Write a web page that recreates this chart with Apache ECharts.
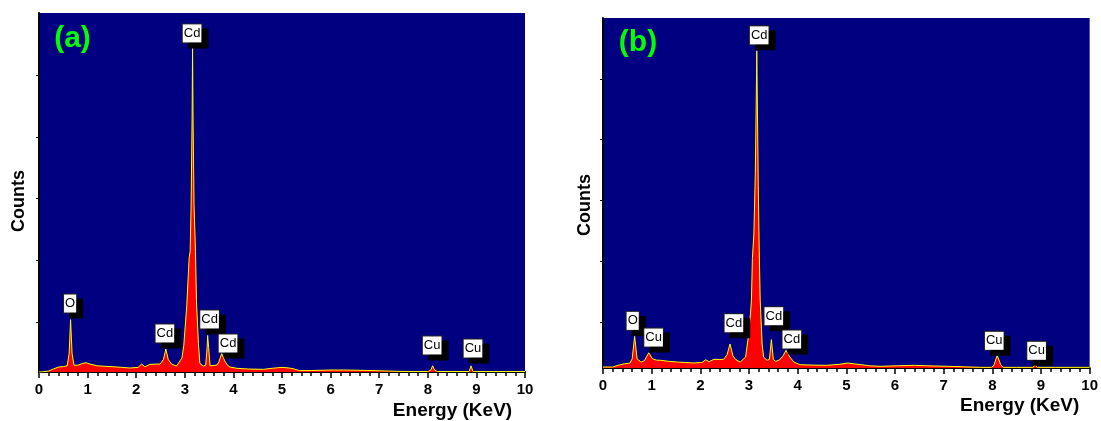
<!DOCTYPE html>
<html>
<head>
<meta charset="utf-8">
<script src="https://cdn.jsdelivr.net/npm/echarts@6/dist/echarts.min.js"></script>
<style>
html,body{margin:0;padding:0;background:#fff;}
#c{width:1101px;height:421px;}
</style>
</head>
<body>
<div id="c"></div>
<script>
// ---------- Panel (a) spectrum ----------
const energyA = [0.00,0.10,0.20,0.30,0.40,0.50,0.58,0.62,0.65,0.68,0.72,0.80,0.90,0.97,1.05,1.20,1.40,1.53,1.70,1.87,2.04,2.11,2.18,2.28,2.40,2.49,2.56,2.61,2.66,2.73,2.83,2.94,2.98,3.04,3.09,3.11,3.13,3.15,3.16,3.17,3.19,3.22,3.24,3.28,3.31,3.38,3.43,3.46,3.47,3.49,3.52,3.55,3.66,3.70,3.76,3.82,3.88,3.93,4.07,4.30,4.62,4.80,5.00,5.15,5.23,5.37,5.60,5.99,6.30,6.67,7.00,7.36,7.70,8.00,8.06,8.10,8.14,8.20,8.50,8.85,8.89,8.93,9.20,9.60,10.00];
const countsA = [0,5,16,50,80,88,100,300,845,300,110,110,140,150,128,100,90,85,75,64,75,128,85,123,128,128,200,370,200,128,96,224,432,1070,1850,1950,2700,4100,5230,4100,2700,1950,1150,460,140,96,110,400,590,400,100,80,112,160,300,180,110,80,60,48,43,60,75,64,53,21,24,32,32,27,20,11,8,8,30,100,30,8,8,8,100,8,8,8,8];
const labelElA = ['O','Cd','Cd','Cd','Cd','Cu','Cu'];
const labelXA  = [0.64,2.59,3.15,3.51,3.89,8.09,8.93];
const labelYA  = [953,469,5317,695,307,275,226];

// ---------- Panel (b) spectrum ----------
const energyB = [0.00,0.20,0.31,0.44,0.55,0.60,0.65,0.70,0.78,0.85,0.94,1.02,1.10,1.19,1.35,1.53,1.70,1.87,2.04,2.11,2.18,2.28,2.40,2.48,2.55,2.61,2.67,2.73,2.82,2.93,2.98,3.03,3.05,3.07,3.10,3.13,3.15,3.16,3.17,3.19,3.21,3.23,3.27,3.30,3.37,3.42,3.46,3.50,3.55,3.62,3.70,3.76,3.84,3.92,4.05,4.30,4.59,4.85,5.03,5.14,5.31,5.50,5.71,6.00,6.40,6.70,7.08,7.40,7.76,7.98,8.03,8.10,8.17,8.22,8.50,8.84,8.88,8.92,9.30,10.00];
const countsB = [16,16,44,70,80,150,520,150,98,120,250,150,130,126,110,98,90,82,93,136,103,143,140,143,220,394,200,136,98,180,475,885,1115,1800,2200,3200,4500,5210,4500,3000,1935,1115,394,180,126,140,466,140,110,130,200,290,180,100,54,48,44,60,82,70,54,35,28,35,44,35,28,20,11,11,40,208,60,11,11,11,60,11,11,11];
const labelElB = ['O','Cu','Cd','Cd','Cd','Cd','Cu','Cu'];
const labelXB  = [0.61,1.04,2.69,3.21,3.51,3.88,8.04,8.91];
const labelYB  = [618,344,580,5309,695,312,290,126];

// ---------- Axes ----------
const xTickLabels = ['0','1','2','3','4','5','6','7','8','9','10'];
const yTicksA = [800,1800,2800,3800,4800];
const yTicksB = [750,1750,2750,3750,4750];
const panelTags = ['(a)','(b)'];
const xTitle = 'Energy (KeV)';
const yTitle = 'Counts';

const zip = (xs, ys) => xs.map((x, i) => [x, ys[i]]);
const labelData = (els, xs, ys) => els.map((e, i) => ({name: e, value: [xs[i], ys[i]]}));

const FONT = '"Liberation Sans", Arial, sans-serif';

function xAxis(gi) {
  return {
    type: 'value', gridIndex: gi, min: 0, max: 10, interval: 1,
    axisLine: {show: true, onZero: false, lineStyle: {color: '#000', width: 2}},
    axisTick: {show: true, length: 6, lineStyle: {color: '#000', width: 1.5}},
    minorTick: {show: true, splitNumber: 5, length: 4, lineStyle: {color: '#000', width: 1.5}},
    splitLine: {show: false},
    axisLabel: {
      color: '#000', fontWeight: 'bold', fontSize: 15, fontFamily: FONT, margin: 10,
      formatter: v => xTickLabels[Math.round(v)]
    }
  };
}
function yAxis(gi, max, ticks) {
  return {
    type: 'value', gridIndex: gi, min: 0, max: max,
    axisLine: {show: true, onZero: false, lineStyle: {color: '#000', width: 2}},
    axisTick: {show: true, length: 3, customValues: ticks, lineStyle: {color: '#000', width: 1}},
    axisLabel: {show: false},
    splitLine: {show: false}
  };
}
function spectrum(gi, data) {
  return {
    type: 'line', xAxisIndex: gi, yAxisIndex: gi, data: data,
    symbol: 'none', smooth: false,
    lineStyle: {color: '#ffff00', width: 1},
    areaStyle: {color: '#ff0000', opacity: 1},
    z: 2
  };
}
function tags(gi, data) {
  return {
    type: 'scatter', xAxisIndex: gi, yAxisIndex: gi, data: data,
    symbolSize: 1, itemStyle: {color: 'rgba(0,0,0,0)', opacity: 1},
    z: 5,
    emphasis: {disabled: true},
    label: {
      show: true, position: 'top', distance: 0,
      formatter: p => p.name,
      color: '#000', fontSize: 13, fontFamily: FONT, lineHeight: 16,
      backgroundColor: '#ffffff', borderColor: '#222', borderWidth: 1,
      padding: [1, 1, 1, 1],
      shadowColor: '#000', shadowOffsetX: 6, shadowOffsetY: 5, shadowBlur: 0
    }
  };
}

const option = {
  animation: false,
  backgroundColor: '#ffffff',
  grid: [
    {left: 39, top: 13, width: 486, height: 359, show: true, backgroundColor: '#000080', borderWidth: 0},
    {left: 603, top: 18, width: 490, height: 350, show: true, backgroundColor: '#000080', borderWidth: 0}
  ],
  xAxis: [xAxis(0), xAxis(1)],
  yAxis: [yAxis(0, 5800, yTicksA), yAxis(1, 5750, yTicksB)],
  series: [
    spectrum(0, zip(energyA, countsA)),
    spectrum(1, zip(energyB, countsB)),
    tags(0, labelData(labelElA, labelXA, labelYA)),
    tags(1, labelData(labelElB, labelXB, labelYB))
  ],
  graphic: [
    {type: 'text', x: 72.5, y: 39, z: 10, style: {text: panelTags[0], font: 'bold 30px ' + FONT, fill: '#00ff00', textAlign: 'center', textVerticalAlign: 'middle'}},
    {type: 'text', x: 638, y: 42.5, z: 10, style: {text: panelTags[1], font: 'bold 30px ' + FONT, fill: '#00ff00', textAlign: 'center', textVerticalAlign: 'middle'}},
    {type: 'text', x: 452.5, y: 410.5, style: {text: xTitle, font: 'bold 19px ' + FONT, fill: '#000', textAlign: 'center', textVerticalAlign: 'middle'}},
    {type: 'text', x: 1019.7, y: 405.5, style: {text: xTitle, font: 'bold 19px ' + FONT, fill: '#000', textAlign: 'center', textVerticalAlign: 'middle'}},
    {type: 'text', x: 19, y: 201, rotation: Math.PI / 2, style: {text: yTitle, font: 'bold 18px ' + FONT, fill: '#000', textAlign: 'center', textVerticalAlign: 'middle'}},
    {type: 'text', x: 585, y: 205, rotation: Math.PI / 2, style: {text: yTitle, font: 'bold 18px ' + FONT, fill: '#000', textAlign: 'center', textVerticalAlign: 'middle'}}
  ]
};

const chart = echarts.init(document.getElementById('c'), null, {renderer: 'canvas'});
chart.setOption(option);
</script>
</body>
</html>
